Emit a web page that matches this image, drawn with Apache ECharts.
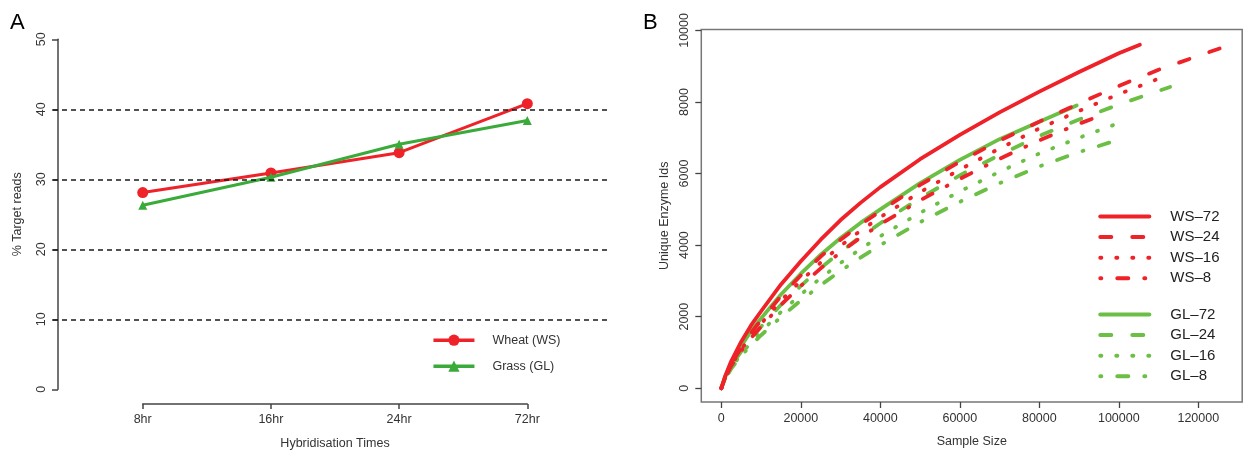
<!DOCTYPE html>
<html><head><meta charset="utf-8">
<script src="https://cdn.jsdelivr.net/npm/echarts@6/dist/echarts.min.js"></script>
<style>html,body{margin:0;padding:0;background:#fff}#c{width:1245px;height:453px}</style>
</head><body><div id="c"></div>
<script>
// ---- Panel A data ----
const hybCategories = ['8hr', '16hr', '24hr', '72hr'];
const wheatWS = [28.1, 30.9, 33.8, 40.8];
const grassGL = [26.3, 30.3, 35.0, 38.4];
const gridLinesA = [10, 20, 30, 40];

// ---- Panel B data ([sample size, unique enzyme ids]) ----
const xTicksB = [0, 20000, 40000, 60000, 80000, 100000, 120000];
const yTicksB = [0, 2000, 4000, 6000, 8000, 10000];
const ws72 = [[0,0],[1000,350],[2500,760],[5000,1300],[7500,1760],[10000,2150],[15000,2900],[20000,3550],[25000,4150],[30000,4700],[35000,5180],[40000,5620],[50000,6400],[60000,7080],[70000,7710],[80000,8290],[90000,8840],[100000,9360],[105300,9600]];
const ws24 = [[0,0],[1000,310],[2500,680],[5000,1130],[7500,1550],[10000,1900],[15000,2570],[20000,3150],[25000,3680],[30000,4150],[35000,4570],[40000,4950],[50000,5680],[60000,6330],[70000,6920],[80000,7450],[90000,7960],[100000,8450],[110000,8900],[120000,9290],[125500,9500]];
const ws16 = [[0,0],[1000,300],[2500,650],[5000,1080],[7500,1470],[10000,1800],[15000,2450],[20000,3000],[25000,3510],[30000,3980],[35000,4400],[40000,4780],[50000,5480],[60000,6110],[70000,6700],[80000,7260],[90000,7750],[100000,8220],[112500,8760]];
const ws8  = [[0,0],[1000,290],[2500,630],[5000,1040],[7500,1410],[10000,1720],[15000,2330],[20000,2860],[25000,3350],[30000,3800],[35000,4210],[40000,4580],[50000,5250],[60000,5850],[70000,6410],[80000,6930],[90000,7390],[93500,7540]];
const gl72 = [[0,0],[1000,320],[2500,700],[5000,1180],[7500,1600],[10000,1950],[15000,2620],[20000,3200],[25000,3730],[30000,4200],[35000,4620],[40000,5000],[50000,5730],[60000,6380],[70000,6960],[80000,7450],[89400,7900]];
const gl24 = [[0,0],[1000,290],[2500,630],[5000,1030],[7500,1400],[10000,1720],[15000,2330],[20000,2860],[25000,3360],[30000,3810],[35000,4230],[40000,4610],[50000,5310],[60000,5950],[70000,6520],[80000,7050],[90000,7510],[100000,7930],[112900,8420]];
const gl16 = [[0,0],[1000,270],[2500,580],[5000,950],[7500,1290],[10000,1580],[15000,2130],[20000,2620],[25000,3080],[30000,3500],[35000,3890],[40000,4250],[50000,4900],[60000,5500],[70000,6050],[80000,6560],[90000,7000],[101700,7480]];
const gl8  = [[0,0],[1000,260],[2500,550],[5000,900],[7500,1210],[10000,1480],[15000,1990],[20000,2450],[25000,2880],[30000,3280],[35000,3650],[40000,4000],[50000,4640],[60000,5210],[70000,5730],[80000,6200],[90000,6600],[97800,6870]];

const RED = '#ee2228', GREEN_A = '#3aab3a', GREEN_B = '#6cbf45';
const TXT = '#333', AX = '#444';
const FONT = 'Liberation Sans, Arial, sans-serif';

const dashSolid = 'solid', dashDashed = [11, 21], dashDotted = [1, 15], dashDotDash = [1, 16, 11, 16];

function curve(name, data, color, type) {
  return {
    name: name, type: 'line', xAxisIndex: 2, yAxisIndex: 2, data: data,
    symbol: 'none', smooth: false, silent: true,
    lineStyle: { color: color, width: 3.8, type: type, cap: 'round', join: 'round' },
    itemStyle: { color: color }
  };
}
const plain = v => String(v);

const chart = echarts.init(document.getElementById('c'), null, { renderer: 'canvas' });
chart.setOption({
  animation: false,
  textStyle: { fontFamily: FONT },
  title: [
    { text: 'A', left: 10, top: 12, padding: 0, textStyle: { fontSize: 22, fontWeight: 'normal', color: '#000', fontFamily: FONT } },
    { text: 'B', left: 643, top: 12, padding: 0, textStyle: { fontSize: 22, fontWeight: 'normal', color: '#000', fontFamily: FONT } }
  ],
  grid: [
    { left: 53, top: 39.3, width: 557, height: 350 },
    { left: 142.7, top: 403, width: 384.6, height: 1 },
    { left: 701.3, top: 29.5, width: 540.9, height: 377.8, show: true, borderColor: '#777', borderWidth: 1.5, backgroundColor: 'transparent' }
  ],
  xAxis: [
    { gridIndex: 0, type: 'value', min: 0.3, max: 4.645, show: false },
    { gridIndex: 1, type: 'category', data: hybCategories, boundaryGap: false, position: 'bottom',
      axisLine: { show: true, onZero: false, lineStyle: { color: AX, width: 1.5 } },
      axisTick: { show: true, length: 5, lineStyle: { color: AX, width: 1.5 } },
      axisLabel: { margin: 9, fontSize: 12.5, color: TXT, fontFamily: FONT },
      name: 'Hybridisation Times', nameLocation: 'middle', nameGap: 33,
      nameTextStyle: { fontSize: 12.5, color: TXT, fontFamily: FONT } },
    { gridIndex: 2, type: 'value', min: -5040, max: 131040, position: 'bottom',
      axisLine: { show: false, onZero: false },
      axisTick: { show: true, length: 6, customValues: xTicksB, lineStyle: { color: AX, width: 1.3 } },
      axisLabel: { customValues: xTicksB, formatter: plain, margin: 10, fontSize: 12.5, color: TXT, fontFamily: FONT },
      splitLine: { show: false },
      name: 'Sample Size', nameLocation: 'middle', nameGap: 33,
      nameTextStyle: { fontSize: 12.5, color: TXT, fontFamily: FONT } }
  ],
  yAxis: [
    { gridIndex: 0, type: 'value', min: 0, max: 50, interval: 10, offset: -5,
      axisLine: { show: true, onZero: false, lineStyle: { color: AX, width: 1.5 } },
      axisTick: { show: true, length: 6, lineStyle: { color: AX, width: 1.5 } },
      axisLabel: { rotate: 90, margin: 10, fontSize: 12.5, color: TXT, fontFamily: FONT },
      splitLine: { show: false },
      name: '% Target reads', nameLocation: 'middle', nameGap: 34,
      nameTextStyle: { fontSize: 12.5, color: TXT, fontFamily: FONT } },
    { gridIndex: 1, type: 'value', min: 0, max: 1, show: false },
    { gridIndex: 2, type: 'value', min: -386, max: 10026, position: 'left',
      axisLine: { show: false, onZero: false },
      axisTick: { show: true, length: 6, customValues: yTicksB, lineStyle: { color: AX, width: 1.3 } },
      axisLabel: { customValues: yTicksB, formatter: plain, rotate: 90, margin: 10, fontSize: 12.5, color: TXT, fontFamily: FONT },
      splitLine: { show: false },
      name: 'Unique Enzyme Ids', nameLocation: 'middle', nameGap: 30,
      nameTextStyle: { fontSize: 12.5, color: TXT, fontFamily: FONT } }
  ],
  legend: [
    { data: ['Wheat (WS)', 'Grass (GL)'], orient: 'vertical', left: 431.7, top: 333.7, padding: 0,
      itemWidth: 41, itemHeight: 14, itemGap: 13, selectedMode: false,
      lineStyle: { width: 3.5 },
      textStyle: { fontSize: 12.5, color: TXT, fontFamily: FONT, padding: [0, 0, 0, 13] } },
    { data: ['WS–72', 'WS–24', 'WS–16', 'WS–8'], orient: 'vertical', left: 1098.3, top: 209, padding: 0,
      itemWidth: 49, itemHeight: 14, itemGap: 5.6, selectedMode: false, itemStyle: { opacity: 0 },
      lineStyle: { width: 4, cap: 'round' },
      textStyle: { fontSize: 15, color: '#222', fontFamily: FONT, padding: [0, 0, 0, 16] } },
    { data: ['GL–72', 'GL–24', 'GL–16', 'GL–8'], orient: 'vertical', left: 1098.3, top: 307, padding: 0,
      itemWidth: 49, itemHeight: 14, itemGap: 5.6, selectedMode: false, itemStyle: { opacity: 0 },
      lineStyle: { width: 4, cap: 'round' },
      textStyle: { fontSize: 15, color: '#222', fontFamily: FONT, padding: [0, 0, 0, 16] } }
  ],
  series: [
    { name: 'Wheat (WS)', type: 'line', xAxisIndex: 0, yAxisIndex: 0, silent: true,
      data: wheatWS.map((v, i) => [i + 1, v]),
      symbol: 'circle', symbolSize: 11,
      lineStyle: { color: RED, width: 3 }, itemStyle: { color: RED },
      markLine: { silent: true, symbol: 'none', label: { show: false },
        lineStyle: { color: '#1a1a1a', width: 1.5, type: [5, 4] },
        data: gridLinesA.map(v => ({ yAxis: v })) }, z: 3 },
    { name: 'Grass (GL)', type: 'line', xAxisIndex: 0, yAxisIndex: 0, silent: true,
      data: grassGL.map((v, i) => [i + 1, v]),
      symbol: 'triangle', symbolSize: 9,
      lineStyle: { color: GREEN_A, width: 3 }, itemStyle: { color: GREEN_A }, z: 4 },
    curve('GL–8', gl8, GREEN_B, dashDotDash),
    curve('GL–16', gl16, GREEN_B, dashDotted),
    curve('GL–24', gl24, GREEN_B, dashDashed),
    curve('GL–72', gl72, GREEN_B, dashSolid),
    curve('WS–8', ws8, RED, dashDotDash),
    curve('WS–16', ws16, RED, dashDotted),
    curve('WS–24', ws24, RED, dashDashed),
    curve('WS–72', ws72, RED, dashSolid)
  ]
});
</script></body></html>
